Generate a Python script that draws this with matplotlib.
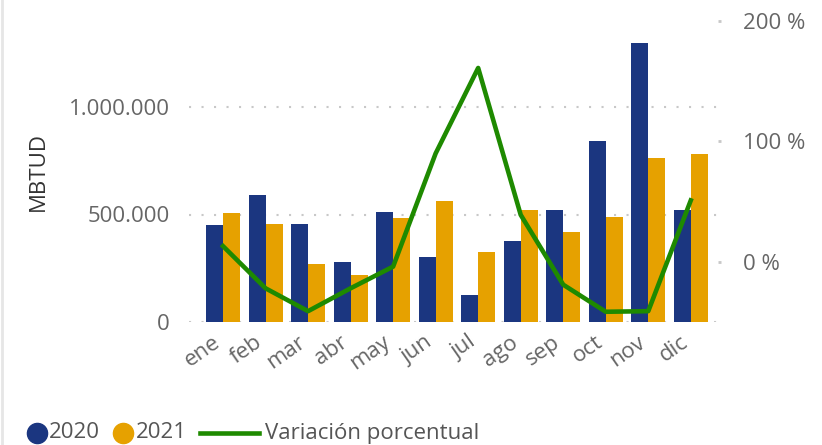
import matplotlib
matplotlib.use("Agg")
import matplotlib.pyplot as plt
from matplotlib.lines import Line2D
import matplotlib.ticker as mticker
import numpy as np

meses = ["ene", "feb", "mar", "abr", "may", "jun", "jul", "ago", "sep", "oct", "nov", "dic"]
v2020 = [451000, 591000, 456000, 279000, 512000, 302000, 126000, 377000, 521000, 842000, 1298000, 521000]
v2021 = [507000, 456000, 270000, 219000, 484000, 563000, 326000, 521000, 419000, 488000, 763000, 781000]
variacion = [13, -22, -41, -22, -4, 90, 161, 39, -19, -41.5, -41, 51]

c2020 = "#1b3680"
c2021 = "#e6a100"
cvar = "#1e8a00"
gris = "#666666"
fs = 16

plt.rcParams['font.family'] = ['Open Sans', 'DejaVu Sans']
fig = plt.figure(figsize=(8.22, 4.45), dpi=100)
ax = fig.add_axes([189/822, 1-322/445, (718-189)/822, 301/445])
ax2 = ax.twinx()

x = np.arange(len(meses))
w = 0.4
ax.bar(x - w/2, v2020, w, color=c2020, zorder=2)
ax.bar(x + w/2, v2021, w, color=c2021, zorder=2)
ax.set_xlim(-0.8, 11.64)
ax.set_ylim(0, 1400000)
ax.set_yticks([0, 500000, 1000000])
ax.yaxis.set_major_formatter(mticker.FuncFormatter(lambda v, p: f"{int(v):,}".replace(",", ".")))
ax.grid(axis='y', color='#c8c8c8', linestyle=(0, (1, 5)), linewidth=1.5, zorder=0)
ax.set_xticks(x)
ax.set_xticklabels([])
for i, m in enumerate(meses):
    ax.annotate(m, xy=(x[i], 0), xycoords=('data', 'axes fraction'),
                xytext=(-8, -7), textcoords='offset points', rotation=35,
                ha='right', va='top', rotation_mode='anchor',
                fontsize=fs, color=gris)
ax.tick_params(axis='x', length=0)
ax.tick_params(axis='y', length=0, pad=14, labelsize=fs, labelcolor=gris)
ax.set_ylabel("MBTUD", fontsize=fs, color='#333333', labelpad=14)
for s in ax.spines.values():
    s.set_visible(False)

ax2.plot(x, variacion, color=cvar, linewidth=3.3, solid_joinstyle='round', zorder=3)
ax2.set_ylim(-50, 200)
ax2.set_yticks([0, 100, 200])
ax2.set_yticklabels(["0 %", "100 %", "200 %"])
ax2.tick_params(axis='y', length=2, width=2, color='#c8c8c8', pad=16, labelsize=fs, labelcolor=gris)
for s in ax2.spines.values():
    s.set_visible(False)
ax.set_zorder(1)
ax2.set_zorder(2)
ax2.patch.set_visible(False)

# leyenda inferior
ly = 1 - 433/445
fig.add_artist(Line2D([37/822], [ly], marker='o', markersize=14.5, color=c2020, linestyle='none'))
fig.text(49/822, ly, "2020", fontsize=fs, color='#555555', va='center')
fig.add_artist(Line2D([123/822], [ly], marker='o', markersize=14.5, color=c2021, linestyle='none'))
fig.text(136/822, ly, "2021", fontsize=fs, color='#555555', va='center')
fig.add_artist(Line2D([200/822, 259/822], [ly, ly], color=cvar, linewidth=3.3))
fig.text(265/822, ly, "Variación porcentual", fontsize=fs, color='#555555', va='center')
fig.add_artist(Line2D([2/822, 2/822], [0, 1], color='#e6e6e6', linewidth=2))

fig.savefig("out.png", dpi=100)
